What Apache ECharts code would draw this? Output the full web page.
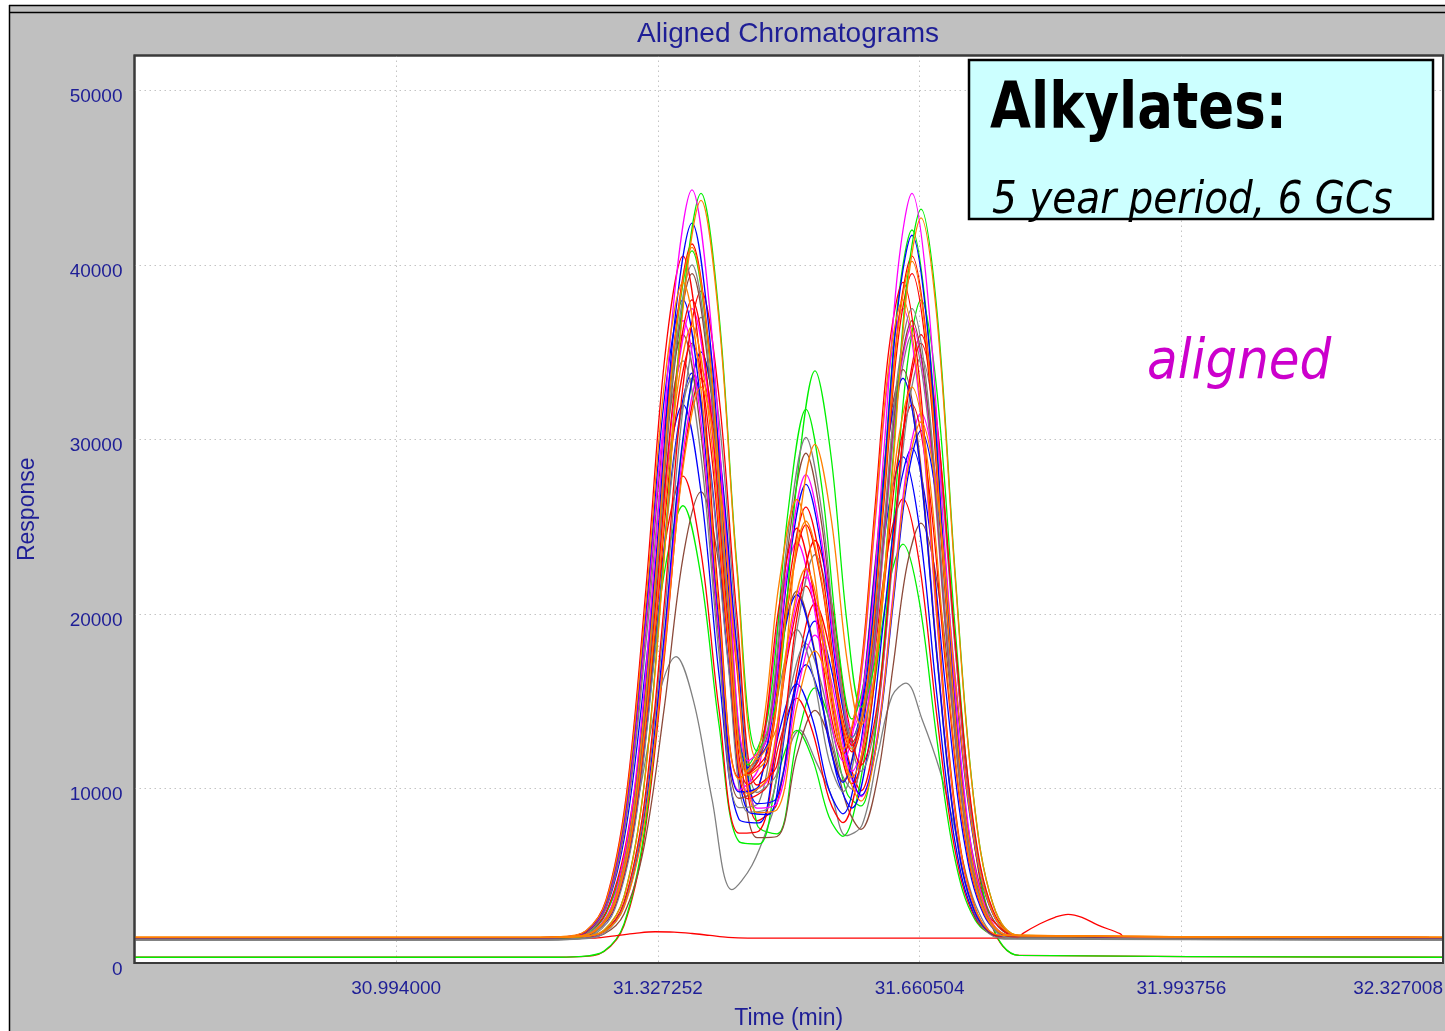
<!DOCTYPE html>
<html>
<head>
<meta charset="utf-8">
<title>Aligned Chromatograms</title>
<script src="https://cdn.jsdelivr.net/npm/echarts@6/dist/echarts.min.js"></script>
<style>
  html, body { margin: 0; padding: 0; background: #fff; }
  #chart { width: 1445px; height: 1031px; }
</style>
</head>
<body>
<div id="chart"></div>
<script>
// x axis ticks (min), one tick every 0.333252 min
const xMin = 30.660748;
const xMax = 32.327008;
const xStep = 0.333252;
const yTicks = [0, 10000, 20000, 30000, 40000, 50000];

// sample times (min)
const timesMid = [30.660748, 31.1771, 31.2153, 31.2472, 31.2726, 31.2981, 31.3236, 31.3478, 31.3707, 31.3936, 31.4165, 31.4420, 31.4675, 31.4929, 31.5158, 31.5362, 31.5566, 31.5744, 31.5948, 31.6152, 31.6330, 31.6508, 31.6712, 31.6941, 31.7170, 31.7425, 31.7756, 32.327008];
const timesEarly = [30.660748, 31.1656, 31.2038, 31.2357, 31.2611, 31.2866, 31.3121, 31.3363, 31.3592, 31.3821, 31.4050, 31.4305, 31.4560, 31.4814, 31.5043, 31.5247, 31.5451, 31.5629, 31.5833, 31.6037, 31.6215, 31.6393, 31.6597, 31.6826, 31.7055, 31.7310, 31.7641, 32.327008];
const timesLate = [30.660748, 31.1886, 31.2268, 31.2587, 31.2841, 31.3096, 31.3351, 31.3593, 31.3822, 31.4051, 31.4280, 31.4535, 31.4790, 31.5044, 31.5273, 31.5477, 31.5681, 31.5859, 31.6063, 31.6267, 31.6445, 31.6623, 31.6827, 31.7056, 31.7285, 31.7540, 31.7871, 32.327008];
const timesGrayLow = [30.660748, 31.1567, 31.1949, 31.2268, 31.2522, 31.2777, 31.3032, 31.3274, 31.3503, 31.3732, 31.3961, 31.4216, 31.4471, 31.4725, 31.5082, 31.5286, 31.5490, 31.5668, 31.5872, 31.6076, 31.6254, 31.6432, 31.6636, 31.6865, 31.7094, 31.7349, 31.7680, 32.327008];
const timesBump = [30.660748, 31.1771, 31.2153, 31.2472, 31.2726, 31.2981, 31.3236, 31.3478, 31.3707, 31.3936, 31.4165, 31.4420, 31.4675, 31.4929, 31.5158, 31.5362, 31.5566, 31.5744, 31.5948, 31.6152, 31.6330, 31.6508, 31.6712, 31.6941, 31.7170, 31.7425, 31.7756, 31.7858, 31.7922, 31.8138, 31.8329, 31.8495, 31.8673, 31.8877, 31.9157, 31.9221, 32.327008];
const timesFlat = [30.660748, 31.2472, 31.2726, 31.2981, 31.3236, 31.3478, 31.3707, 31.3936, 31.4165, 31.4420, 32.327008];

// responses
const magentaA = [1450,1450,1490,1880,3810,10230,23430,38040,44300,37280,22710,11590,12960,22850,27980,24070,16570,13390,17900,29440,39790,44100,38090,22900,9980,3410,1580,1450];
const greenA = [1450,1450,1490,1880,3800,10190,23330,37870,44100,37130,22710,12150,15160,27620,33930,29050,19470,14660,18020,28950,39000,43200,37310,22450,9800,3370,1580,1450];
const orangeA = [1470,1470,1510,1890,3790,10130,23130,37530,43700,36790,22460,11670,13600,24260,29720,25530,17370,13620,17550,28570,38540,42700,36890,22210,9720,3370,1590,1470];
const blueA = [1450,1450,1490,1860,3700,9850,22460,36420,42400,35700,21780,11200,12680,22400,27420,23580,16180,12930,17040,27880,37630,41700,36030,21700,9500,3300,1570,1450];
const redA = [1450,1450,1490,1850,3640,9600,21840,35400,41200,34690,21180,10860,12150,21350,26120,22480,15480,12470,16530,27080,36550,40500,34990,21090,9260,3250,1570,1450];
const redB = [1450,1450,1490,1840,3600,9460,21480,34800,40500,34100,20820,10620,11680,20390,24910,21450,14810,11980,15940,26100,35200,39000,33710,20340,8960,3180,1560,1450];
const greenB = [1450,1450,1490,1840,3610,9520,21640,35060,40800,34370,21070,11350,14210,25840,31720,27190,18320,13980,17450,28140,37910,42000,36280,21850,9560,3320,1570,1450];
const grayA = [1330,1330,1370,1720,3460,9260,21170,34350,40000,33680,20590,10960,13510,24530,30110,25780,17260,12920,15730,25160,33860,37500,32400,19520,8560,2990,1440,1330];
const brownA = [1400,1400,1440,1780,3500,9210,20950,33940,39500,33270,20370,10840,13200,23820,29210,25030,16810,12660,15470,24720,33240,36800,31810,19210,8480,3030,1510,1400];
const orangeB = [1470,1470,1510,1850,3530,9160,20720,33520,39000,32860,20120,10540,12240,21700,26560,22830,15590,12250,15730,25480,34310,38000,32850,19850,8780,3150,1580,1470];
const redC = [1450,1450,1490,1820,3490,9050,20460,33090,38500,32430,19830,10200,11340,19820,24210,20830,14300,11350,14690,23820,32060,35500,30700,18580,8260,3020,1550,1450];
const blueB = [1450,1450,1490,1820,3460,8940,20200,32660,38000,32010,19540,9800,10170,17330,21100,18210,12670,10350,13790,22480,30260,33500,28980,17570,7860,2920,1550,1450];
const magentaB = [1450,1450,1490,1810,3430,8840,19940,32240,37500,31590,19310,9810,10520,18130,22110,19080,13300,10990,14880,24440,32950,36500,31560,19080,8460,3060,1560,1450];
const grayB = [1330,1330,1370,1690,3290,8640,19630,31790,37000,31160,19030,9770,10910,19140,23400,20130,13810,10980,14290,23250,31330,34700,29990,18120,8000,2870,1430,1330];
const orangeC = [1470,1470,1510,1820,3400,8650,19440,31390,36500,30760,18850,9700,10670,18530,22600,19460,13390,10650,13740,22190,29820,33000,28550,17330,7780,2920,1570,1470];
const brownB = [1400,1400,1430,1750,3300,8490,19150,30950,36000,30330,18550,9440,10130,17470,21300,18370,12770,10430,13940,22790,30700,34000,29400,17800,7920,2900,1500,1400];
const redD = [1450,1450,1480,1790,3320,8430,18920,30530,35500,29920,18330,9410,10250,17710,21600,18610,12840,10270,13310,21520,28910,32000,27690,16820,7560,2860,1540,1450];
const blueC = [1450,1450,1480,1790,3300,8330,18660,30100,35000,29500,18060,9130,9490,16110,19590,16910,11780,9600,12660,20520,27560,30500,26400,16060,7260,2790,1540,1450];
const grayC = [1330,1330,1360,1660,3150,8130,18350,29660,34500,29060,17750,8900,9210,15680,19100,16510,11620,9810,13570,22410,30240,33500,28960,17510,7760,2810,1430,1330];
const magentaC = [1450,1450,1480,1780,3240,8120,18150,29250,34000,28660,17560,8870,9150,15460,18790,16250,11430,9540,12940,21150,28460,31500,27260,16570,7460,2830,1540,1450];
const grayD = [1330,1330,1360,1650,3100,7930,17830,28800,33500,28230,17250,8650,8880,15040,18300,15870,11350,9960,14370,24010,32480,36000,31110,18770,8260,2930,1430,1330];
const orangeD = [1470,1470,1500,1790,3200,7930,17650,28400,33000,27830,17070,8620,8790,14740,17890,15500,10970,9280,12720,20820,28010,31000,26840,16320,7380,2830,1560,1470];
const blueD = [1450,1450,1480,1770,3230,8080,18050,29080,33800,28490,17440,8670,8510,14100,17090,14810,10490,8880,12140,19830,26660,29500,25550,15560,7060,2740,1530,1450];
const blueE = [1450,1450,1480,1760,3130,7710,17120,27540,32000,26990,16550,8240,8030,13210,15990,13880,9930,8550,11890,19490,26210,29000,25120,15310,6960,2720,1530,1450];
const redE = [1450,1450,1480,1720,2910,6870,15020,24040,27900,23560,14540,7440,7570,12540,15180,13180,9410,8040,11010,17930,24050,26600,23050,14100,6480,2610,1530,1450];
const brownC = [1400,1400,1430,1660,2810,6650,14530,23260,27000,22800,14060,7180,7250,11970,14470,12570,8980,7660,10450,16990,22790,25200,21840,13370,6160,2500,1470,1400];
const greenC = [1450,1450,1470,1700,2810,6520,14150,22590,26200,22140,13680,6960,6820,11060,13330,11610,8380,7260,9990,16220,21710,24000,20820,12790,5960,2490,1520,1450];
const grayLow = [1330,1330,1350,1490,2220,4660,9660,15190,17560,14910,9410,4200,5600,8500,13350,11540,9500,7300,7900,12000,15300,16040,13970,11000,7000,3000,1370,1330];
const greenLow = [330,330,370,680,2240,7440,18120,29940,35000,29310,17440,7930,7400,12810,15760,13600,9720,9000,14280,24930,34170,38000,32690,19280,7860,2060,440,330];
const redLow = [330,330,360,660,2150,7130,17350,28660,33500,28070,16790,8150,9140,16690,20600,17650,12030,9870,13950,23710,32390,36000,30970,18270,7460,1970,440,330];
const redBump = [1450,1450,1490,1820,3460,8940,20200,32660,38000,32020,19600,10200,11650,20530,25110,21630,14930,12100,16120,26420,35650,39500,34140,20590,9060,3200,1560,1460,1700,2250,2620,2790,2620,2170,1680,1450,1450];
const redFlat = [1430,1430,1560,1700,1790,1770,1690,1580,1470,1430,1430];
const magentaD = [1450,1450,1490,1800,3390,8700,19590,31640,36800,31010,19000,9890,11230,19730,24110,20770,14340,11590,15370,25110,33860,37500,32420,19580,8660,3110,1560,1450];
const orangeE = [1470,1470,1510,1870,3640,9570,21750,35230,41000,34530,21080,10760,11860,20720,25320,21810,15080,12250,16390,26880,36280,40200,34740,20950,9220,3250,1590,1470];

const MAGENTA = "#ff00ff";
const GREEN = "#00f000";
const BLUE = "#0000ff";
const RED = "#ff0000";
const ORANGE = "#ff8000";
const GRAY = "#808080";
const BROWN = "#8c4a3a";
const NAVY = "#1e1e96";
const FONT = "'Liberation Sans', Arial, sans-serif";
const HAND = "'Comic Sans MS', 'DejaVu Sans', sans-serif";

// drawn bottom to top
const traces = [
  [redLow, timesLate, RED],
  [greenLow, timesLate, GREEN],
  [redFlat, timesFlat, RED],
  [grayLow, timesGrayLow, GRAY],
  [greenC, timesEarly, GREEN],
  [brownC, timesLate, BROWN],
  [redE, timesEarly, RED],
  [blueE, timesEarly, BLUE],
  [blueD, timesMid, BLUE],
  [grayD, timesMid, GRAY],
  [magentaC, timesLate, MAGENTA],
  [grayC, timesEarly, GRAY],
  [blueC, timesLate, BLUE],
  [redD, timesMid, RED],
  [brownB, timesEarly, BROWN],
  [grayB, timesLate, GRAY],
  [magentaB, timesMid, MAGENTA],
  [magentaD, timesEarly, MAGENTA],
  [blueB, timesEarly, BLUE],
  [redBump, timesBump, RED],
  [redC, timesLate, RED],
  [brownA, timesMid, BROWN],
  [greenB, timesMid, GREEN],
  [redB, timesEarly, RED],
  [redA, timesMid, RED],
  [blueA, timesMid, BLUE],
  [greenA, timesLate, GREEN],
  [magentaA, timesMid, MAGENTA],
  [grayA, timesMid, GRAY],
  [orangeD, timesLate, ORANGE],
  [orangeC, timesMid, ORANGE],
  [orangeB, timesEarly, ORANGE],
  [orangeE, timesMid, ORANGE],
  [orangeA, timesLate, ORANGE],
];

const chart = echarts.init(document.getElementById("chart"), null, { renderer: "canvas" });

const gridBox = { left: 134.5, top: 55.5, right: 1443, bottom: 963 };

const option = {
  animation: false,
  backgroundColor: "#c0c0c0",
  grid: {
    left: gridBox.left,
    top: gridBox.top,
    right: 1445 - gridBox.right,
    bottom: 1031 - gridBox.bottom,
    outerBoundsMode: "none",
    show: true,
    backgroundColor: "#ffffff",
    borderColor: "#3a3a3a",
    borderWidth: 2,
  },
  xAxis: {
    type: "value",
    min: xMin,
    max: xMax,
    interval: xStep,
    name: "Time (min)",
    nameLocation: "middle",
    nameGap: 44,
    nameTextStyle: { color: NAVY, fontSize: 23, fontFamily: FONT },
    axisLine: { show: false },
    axisTick: { show: false },
    axisLabel: {
      color: NAVY,
      fontSize: 19,
      fontFamily: FONT,
      margin: 16,
      showMinLabel: false,
      alignMaxLabel: "right",
      formatter: (v) => v.toFixed(6),
    },
    splitLine: { lineStyle: { color: "#c4c4c4", type: [1.5, 3.5], width: 1 } },
  },
  yAxis: {
    type: "value",
    min: yTicks[0],
    max: 52000,
    interval: yTicks[1] - yTicks[0],
    name: "Response",
    nameLocation: "middle",
    nameGap: 95,
    nameTextStyle: { color: NAVY, fontSize: 23, fontFamily: FONT },
    axisLine: { show: false },
    axisTick: { show: false },
    axisLabel: {
      color: NAVY,
      fontSize: 19,
      fontFamily: FONT,
      margin: 12,
      showMaxLabel: false,
      verticalAlign: "top",
      lineHeight: 13,
      formatter: (v) => String(v),
    },
    splitLine: { lineStyle: { color: "#c4c4c4", type: [1.5, 3.5], width: 1 } },
  },
  graphic: [
    { type: "rect", shape: { x: 0, y: 0, width: 1445, height: 5 }, style: { fill: "#ffffff" }, z: -1 },
    { type: "rect", shape: { x: 0, y: 0, width: 9, height: 1031 }, style: { fill: "#ffffff" }, z: -1 },
    { type: "line", shape: { x1: 9, y1: 5.5, x2: 1445, y2: 5.5 }, style: { stroke: "#000", lineWidth: 1.5 } },
    { type: "line", shape: { x1: 9, y1: 12.5, x2: 1445, y2: 12.5 }, style: { stroke: "#000", lineWidth: 1.5 } },
    { type: "line", shape: { x1: 9.5, y1: 5, x2: 9.5, y2: 1031 }, style: { stroke: "#000", lineWidth: 1.5 } },
    {
      type: "rect",
      z: 50,
      silent: true,
      shape: {
        x: gridBox.left,
        y: gridBox.top,
        width: gridBox.right - gridBox.left,
        height: gridBox.bottom - gridBox.top,
      },
      style: { fill: null, stroke: "#3a3a3a", lineWidth: 2 },
    },
    {
      type: "text",
      x: 788,
      y: 34,
      style: {
        text: "Aligned Chromatograms",
        fill: NAVY,
        font: "28px " + FONT,
        textAlign: "center",
        textVerticalAlign: "middle",
      },
    },
    {
      type: "rect",
      z: 100,
      shape: { x: 969, y: 60, width: 464, height: 159 },
      style: { fill: "#ccffff", stroke: "#000", lineWidth: 2.5 },
    },
    {
      type: "text",
      z: 101,
      x: 990,
      y: 111,
      scaleY: 1.2,
      style: { text: "Alkylates:", fill: "#000", font: "bold 53px " + HAND, textVerticalAlign: "middle" },
    },
    {
      type: "text",
      z: 101,
      x: 992,
      y: 202,
      scaleY: 1.12,
      style: { text: "5 year period, 6 GCs", fill: "#000", font: "italic 39px " + HAND, textVerticalAlign: "middle" },
    },
    {
      type: "text",
      z: 101,
      x: 1147,
      y: 364,
      scaleY: 1.1,
      style: { text: "aligned", fill: "#cc00cc", font: "italic 50px " + HAND, textVerticalAlign: "middle" },
    },
  ],
  series: traces.map(([values, times, color]) => ({
    type: "line",
    data: times.map((t, i) => [t, values[i]]),
    showSymbol: false,
    smooth: 0.35,
    silent: true,
    lineStyle: { color: color, width: 1.3 },
    itemStyle: { color: color },
  })),
};

chart.setOption(option);
</script>
</body>
</html>
